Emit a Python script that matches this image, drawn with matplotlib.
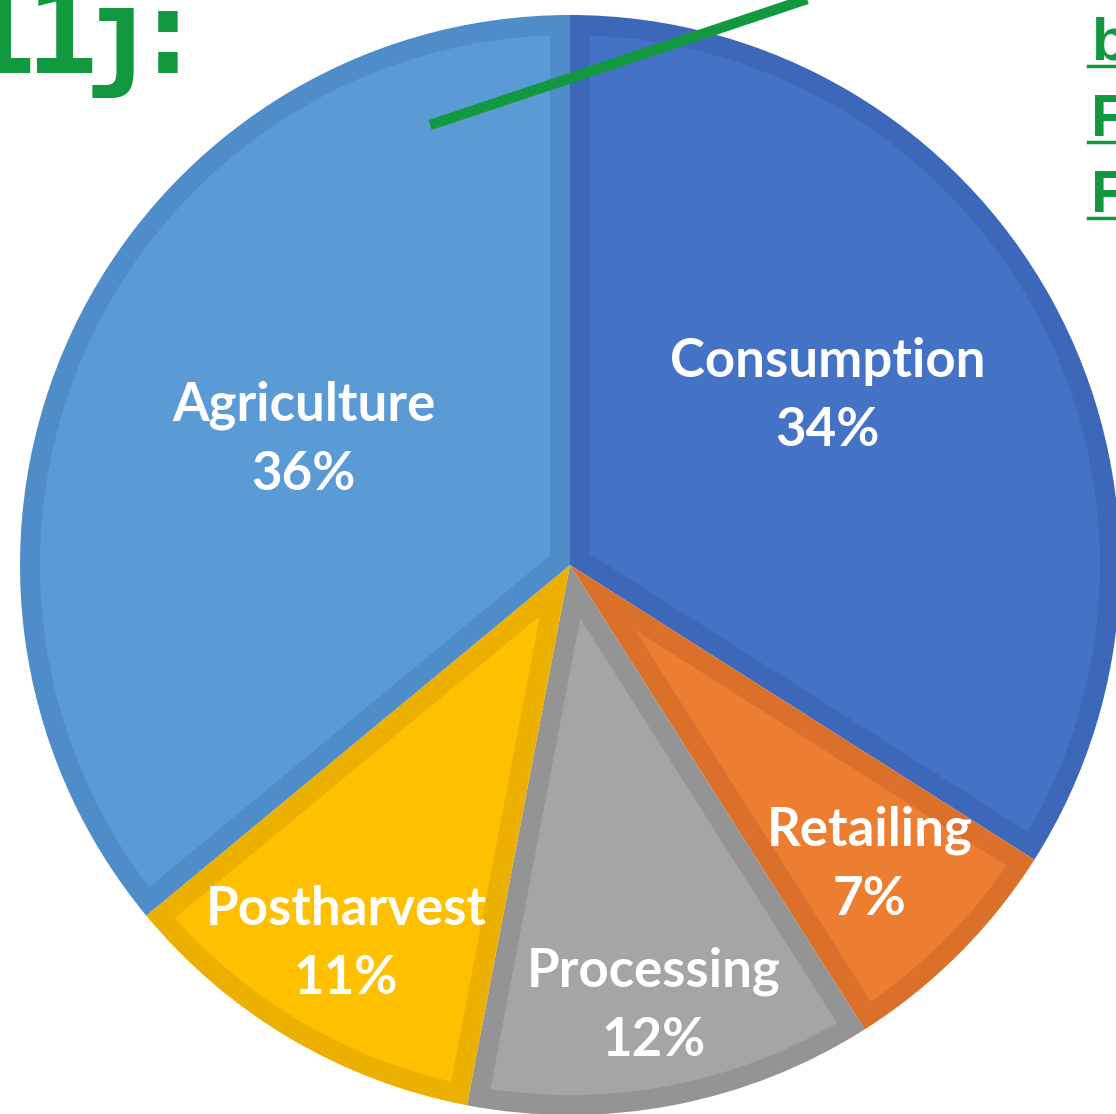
import numpy as np
import matplotlib.pyplot as plt
from matplotlib.patches import Polygon

# food-loss share by stage of the supply chain
stages = ["Consumption", "Retailing", "Processing", "Postharvest", "Agriculture"]
shares = [34, 7, 12, 11, 36]
fills = ["#4472C4", "#ED7D31", "#A5A5A5", "#FFC000", "#5B9BD5"]
rims = ["#3D67B9", "#DA702A", "#949494", "#EBB000", "#4E8CCA"]
label_dist = [0.56, 0.77, 0.815, 0.80, 0.535]
label_turn = [4.5, 0, 0, 0, 0]   # degrees added to the slice mid-angle

W, H = 1116, 1114
cx, cy, r = 570, 565, 550  # pie centre / radius in pixels
rim_w = 20 / r             # rim width in data units


def inset_wedge(w, d, n=120):
    """Outline of wedge w shrunk inward by d (flat sides and arc)."""
    t1, t2 = np.deg2rad(w.theta1), np.deg2rad(w.theta2)
    R = w.r
    half = (t2 - t1) / 2
    mid = t1 + half
    apex = (d / np.sin(half)) * np.array([np.cos(mid), np.sin(mid)])
    dt = np.arcsin(d / (R - d))
    t = np.linspace(t1 + dt, t2 - dt, n)
    arc = np.column_stack([(R - d) * np.cos(t), (R - d) * np.sin(t)])
    return np.vstack([apex, arc])


fig = plt.figure(figsize=(W / 100, H / 100), dpi=100)
ax = fig.add_axes([0, 0, 1, 1])

wedges, _ = ax.pie(shares, colors=rims, startangle=90, counterclock=False,
                   radius=1.0, wedgeprops=dict(linewidth=0))

# Excel-style darker rim: the wedge is filled with the rim colour and a
# slightly smaller copy in the main colour sits on top
for w, fc in zip(wedges, fills):
    ax.add_patch(Polygon(inset_wedge(w, rim_w), closed=True, facecolor=fc,
                         edgecolor="none"))

for w, name, val, d, turn in zip(wedges, stages, shares, label_dist, label_turn):
    mid = np.deg2rad((w.theta1 + w.theta2) / 2 + turn)
    ax.text(d * np.cos(mid), d * np.sin(mid), f"{name}\n{val}%",
            ha="center", va="center", color="white", fontsize=38,
            fontweight="bold", family="Lato", linespacing=1.5)

ax.set_aspect("auto")
ax.set_xlim(-cx / r, (W - cx) / r)
ax.set_ylim((cy - H) / r, cy / r)
ax.axis("off")

green = "#12983E"

# pointer line from the heading down into the agriculture slice
fig.add_artist(plt.Line2D([430 / W, 870 / W], [1 - 125 / H, 1 + 22 / H],
                          transform=fig.transFigure, color=green, lw=7.5,
                          solid_capstyle="butt"))

# heading fragment, top left (set glyph by glyph for a tighter pitch)
head = dict(color=green, fontsize=86, fontweight="bold",
            family="DejaVu Sans Mono", va="baseline", ha="center")
for ch, x in zip("11j:", [0, 62, 120, 168]):
    fig.text(x / W, 1 - 73 / H, ch, **head)

# linked references on the right
for txt, base in zip(["b", "F", "F"], [60, 136, 212]):
    fig.text(1091 / W, 1 - base / H, txt, ha="left", va="baseline",
             color=green, fontsize=43, fontweight="bold", family="Liberation Sans")
    fig.add_artist(plt.Line2D([1088 / W, 1.0], [1 - (base + 6) / H] * 2,
                              transform=fig.transFigure, color=green, lw=2.5))

fig.savefig("out.png", dpi=100, facecolor="white")
